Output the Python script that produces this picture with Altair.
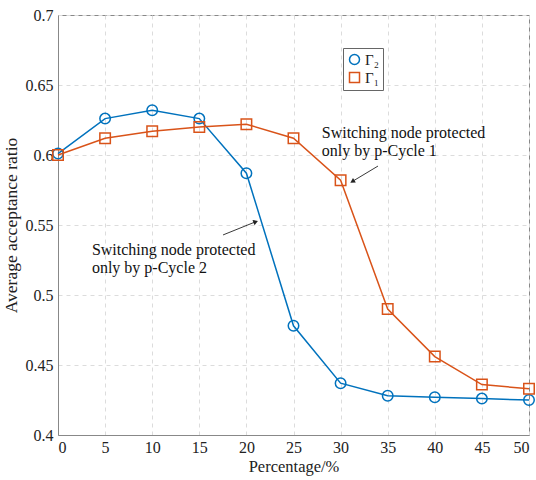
import altair as alt
import pandas as pd

x_vals = [0, 5, 10, 15, 20, 25, 30, 35, 40, 45, 50]
gamma2 = [0.601, 0.626, 0.632, 0.626, 0.587, 0.478, 0.437, 0.428, 0.427, 0.426, 0.425]
gamma1 = [0.600, 0.612, 0.617, 0.620, 0.622, 0.612, 0.582, 0.490, 0.456, 0.436, 0.433]
series_names = ["Γ₂", "Γ₁"]
series_colors = ["#0072BD", "#D95319"]
series_shapes = ["circle", "square"]
y_ticks = [0.4, 0.45, 0.5, 0.55, 0.6, 0.65, 0.7]
x_ticks = [0, 5, 10, 15, 20, 25, 30, 35, 40, 45, 50]

rows = []
for xv, a, b in zip(x_vals, gamma2, gamma1):
    rows.append({"x": xv, "y": a, "s": series_names[0]})
    rows.append({"x": xv, "y": b, "s": series_names[1]})
df = pd.DataFrame(rows)

# annotations
ann_text = pd.DataFrame([
    {"x": 28.0, "y": 0.6214, "t": ["Switching node protected", "only by p-Cycle 1"]},
    {"x": 3.6, "y": 0.5378, "t": ["Switching node protected", "only by p-Cycle 2"]},
])
arrows = pd.DataFrame([
    {"x": 33.97, "y": 0.5921, "x2": 31.32, "y2": 0.5814, "ang": 239},
    {"x": 17.52, "y": 0.5429, "x2": 20.91, "y2": 0.5521, "ang": 68},
])

FONT = "Liberation Serif"
xs = alt.Scale(domain=[0, 50], nice=False, zero=False)
ys = alt.Scale(domain=[0.4, 0.7], nice=False, zero=False)

xenc = alt.X("x:Q", scale=xs, axis=alt.Axis(values=x_ticks, title="Percentage/%", grid=True,
                                             gridDash=[4, 4], gridColor="#dcdcdc", tickSize=0,
                                             labelPadding=4, titlePadding=3, domainColor="#888",
                                             titleFontSize=16.5))
yenc = alt.Y("y:Q", scale=ys, axis=alt.Axis(values=y_ticks, format=".2~f", title="Average acceptance ratio",
                                             grid=True, gridDash=[4, 4], gridColor="#dcdcdc", tickSize=0,
                                             labelPadding=5, titlePadding=5, domainColor="#888",
                                             titleFontSize=17.5))
legend = alt.Legend(title=None, orient="none", legendX=285, legendY=33,
                    strokeColor="#666", fillColor="white", padding=4,
                    labelFont=FONT, labelFontSize=15, symbolStrokeWidth=1.5,
                    symbolSize=100, rowPadding=1, labelColor="#222", labelOffset=3)
cscale = alt.Scale(domain=series_names, range=series_colors)
sscale = alt.Scale(domain=series_names, range=series_shapes)

lines = alt.Chart(df).mark_line(strokeWidth=1.5).encode(
    x=xenc, y=yenc, color=alt.Color("s:N", scale=cscale, legend=legend), detail="s:N")
points = alt.Chart(df).mark_point(filled=False, size=110, strokeWidth=1.5, opacity=1).encode(
    x="x:Q", y="y:Q",
    color=alt.Color("s:N", scale=cscale, legend=legend),
    shape=alt.Shape("s:N", scale=sscale, legend=legend),
)

texts = alt.Chart(ann_text).mark_text(align="left", baseline="top", font=FONT, fontSize=16,
                                      lineHeight=18, color="#111").encode(x="x:Q", y="y:Q", text="t")
arrow_lines = alt.Chart(arrows).mark_rule(color="#222", strokeWidth=0.9).encode(
    x="x:Q", y="y:Q", x2="x2:Q", y2="y2:Q")
arrow_heads = alt.Chart(arrows).mark_point(shape="triangle", filled=True, size=30, color="#222", opacity=1).encode(
    x="x2:Q", y="y2:Q", angle=alt.Angle("ang:Q", scale=None))

chart = alt.layer(lines, points, texts, arrow_lines, arrow_heads).properties(
    width=471, height=420,
    autosize=alt.AutoSizeParams(type="none"),
    padding={"left": 58, "top": 15, "right": 7, "bottom": 45},
    background="white",
).configure_view(stroke="#888", strokeWidth=1).configure_axis(
    labelFont=FONT, labelFontSize=16, titleFont=FONT, titleFontWeight="normal",
    labelColor="#222", titleColor="#222"
)

chart.save("out.html", embed_options={"renderer": "svg", "actions": False})
